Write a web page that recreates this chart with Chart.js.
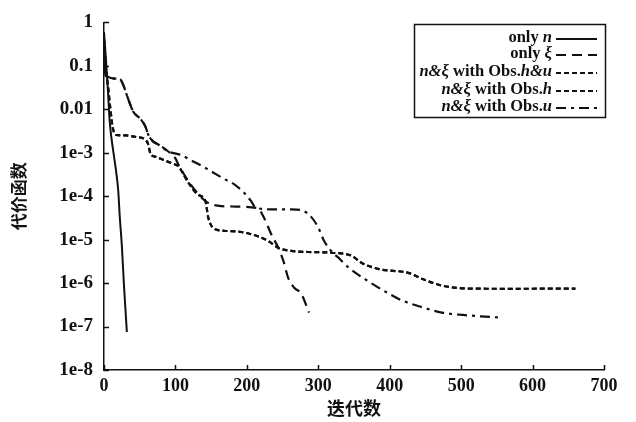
<!DOCTYPE html>
<html>
<head>
<meta charset="utf-8">
<script src="https://cdn.jsdelivr.net/npm/chart.js@4/dist/chart.umd.min.js"></script>
<style>
  html, body { margin: 0; padding: 0; background: #fff; }
  #wrap { width: 636px; height: 422px; }
</style>
</head>
<body>
<div id="wrap"><canvas id="chart" width="636" height="422"></canvas></div>
<script>
// tick labels
const xTicks = [0, 100, 200, 300, 400, 500, 600, 700];
const yTickValues = [1, 0.1, 0.01, 1e-3, 1e-4, 1e-5, 1e-6, 1e-7, 1e-8];
const yTickLabels = ['1', '0.1', '0.01', '1e-3', '1e-4', '1e-5', '1e-6', '1e-7', '1e-8'];

// only n
const iterN = [0, 3, 6, 8, 13, 17, 20, 22, 25, 28, 32];
const costN = [0.6, 0.12, 0.019, 5.2e-3, 1.07e-3, 3.7e-4, 1.3e-4, 3.5e-5, 7.2e-6, 8.7e-7, 7.5e-8];

// only xi
const iterXi = [0, 2, 22, 27, 34, 41, 51, 58, 62, 69, 76, 90, 100, 104, 121, 139, 150, 180, 215, 224, 234, 244, 251, 258, 266, 276, 287];
const costXi = [0.3, 0.06, 0.05, 0.036, 0.017, 8.8e-3, 6e-3, 4e-3, 2.6e-3, 1.8e-3, 1.55e-3, 1.07e-3, 7.4e-4, 5.4e-4, 1.9e-4, 8.5e-5, 6.5e-5, 5.8e-5, 5.3e-5, 3.2e-5, 1.35e-5, 6.5e-6, 3.3e-6, 1.3e-6, 7.9e-7, 5.7e-7, 2.1e-7];

// n & xi with Obs.h&u (lies on top of the Obs.h curve)
const iterHU = [0, 3, 6, 9, 12, 16, 30, 45, 58, 62, 65, 72, 96, 104, 117, 131, 142, 146, 154, 168, 192, 215, 230, 244, 262, 286, 318, 346, 361, 385, 427, 445, 473, 511, 568, 660];
const costHU = [0.4, 0.08, 0.03, 0.01, 4e-3, 2.6e-3, 2.5e-3, 2.3e-3, 2e-3, 1.55e-3, 9.5e-4, 8.1e-4, 5.6e-4, 4.9e-4, 2.2e-4, 1.1e-4, 7.7e-5, 3.2e-5, 1.8e-5, 1.6e-5, 1.5e-5, 1.2e-5, 9.3e-6, 6.5e-6, 5.5e-6, 5.2e-6, 5e-6, 4.3e-6, 2.9e-6, 2.1e-6, 1.7e-6, 1.26e-6, 8.8e-7, 7.5e-7, 7.4e-7, 7.5e-7];

// n & xi with Obs.h
const iterH = [0, 3, 6, 9, 12, 16, 30, 45, 58, 62, 65, 72, 96, 104, 117, 131, 142, 146, 154, 168, 192, 215, 230, 244, 262, 286, 318, 346, 361, 385, 427, 445, 473, 511, 568, 660];
const costH = [0.4, 0.08, 0.03, 0.01, 4e-3, 2.6e-3, 2.5e-3, 2.3e-3, 2e-3, 1.55e-3, 9.5e-4, 8.1e-4, 5.6e-4, 4.9e-4, 2.2e-4, 1.1e-4, 7.7e-5, 3.2e-5, 1.8e-5, 1.6e-5, 1.5e-5, 1.2e-5, 9.3e-6, 6.5e-6, 5.5e-6, 5.2e-6, 5e-6, 4.3e-6, 2.9e-6, 2.1e-6, 1.7e-6, 1.26e-6, 8.8e-7, 7.5e-7, 7.4e-7, 7.5e-7];

// n & xi with Obs.u
const iterU = [0, 2, 22, 27, 34, 41, 51, 58, 62, 69, 76, 90, 107, 125, 145, 168, 182, 196, 206, 212, 234, 262, 286, 300, 308, 318, 330, 342, 370, 399, 417, 445, 473, 511, 556];
const costU = [0.3, 0.06, 0.05, 0.036, 0.017, 8.8e-3, 6e-3, 4e-3, 2.6e-3, 1.8e-3, 1.55e-3, 1.07e-3, 9e-4, 6.3e-4, 4.2e-4, 2.5e-4, 1.9e-4, 1.2e-4, 7.7e-5, 5.5e-5, 5e-5, 5e-5, 3.9e-5, 1.9e-5, 9.4e-6, 5.5e-6, 3.6e-6, 2.3e-6, 1.1e-6, 5.7e-7, 4e-7, 2.8e-7, 2.1e-7, 1.8e-7, 1.6e-7];

// legend text, pieces are [text, italic]
const legendLabels = [
    [['only ', false], ['n', true]],
    [['only ', false], ['ξ', true]],
    [['n&ξ', true], [' with Obs.', false], ['h&u', true]],
    [['n&ξ', true], [' with Obs.', false], ['h', true]],
    [['n&ξ', true], [' with Obs.', false], ['u', true]]
];

const ink = '#111';
const serif = '"Liberation Serif", "DejaVu Serif", serif';

function points(xs, ys) {
    return xs.map((x, i) => ({ x: x, y: ys[i] }));
}

function series(xs, ys, dash, width) {
    return {
        data: points(xs, ys),
        borderColor: ink,
        borderWidth: width,
        borderDash: dash,
        pointRadius: 0,
        fill: false,
        cubicInterpolationMode: 'monotone'
    };
}

// inward tick marks like the original
const innerTicks = {
    id: 'innerTicks',
    afterDraw(chart) {
        const { ctx, scales: { x, y }, chartArea } = chart;
        ctx.save();
        ctx.strokeStyle = ink;
        ctx.lineWidth = 1.5;
        ctx.beginPath();
        yTickValues.forEach(v => {
            const py = Math.round(y.getPixelForValue(v)) + 0.5;
            ctx.moveTo(chartArea.left, py);
            ctx.lineTo(chartArea.left + 5, py);
        });
        xTicks.forEach(v => {
            const px = Math.round(x.getPixelForValue(v)) + 0.5;
            ctx.moveTo(px, chartArea.bottom);
            ctx.lineTo(px, chartArea.bottom - 5);
        });
        ctx.stroke();
        ctx.restore();
    }
};

// boxed legend, text right aligned with line sample on the right
const boxLegend = {
    id: 'boxLegend',
    afterDraw(chart) {
        const ctx = chart.ctx;
        const rowY = [38, 54, 72, 90, 107];
        const textRight = 552;
        ctx.save();
        ctx.strokeStyle = ink;
        ctx.lineWidth = 1.5;
        ctx.strokeRect(414.5, 24.5, 191, 93);
        ctx.fillStyle = ink;
        ctx.textBaseline = 'middle';
        legendLabels.forEach((parts, i) => {
            const fonts = parts.map(p => (p[1] ? 'italic bold ' : 'bold ') + '16.5px ' + serif);
            let total = 0;
            parts.forEach((p, j) => { ctx.font = fonts[j]; total += ctx.measureText(p[0]).width; });
            let cx = textRight - total;
            parts.forEach((p, j) => {
                ctx.font = fonts[j];
                ctx.fillText(p[0], cx, rowY[i]);
                cx += ctx.measureText(p[0]).width;
            });
            const ds = chart.data.datasets[i];
            ctx.beginPath();
            ctx.lineWidth = ds.borderWidth;
            ctx.setLineDash(ds.borderDash || []);
            ctx.moveTo(556, rowY[i] + 1);
            ctx.lineTo(597, rowY[i] + 1);
            ctx.stroke();
        });
        ctx.restore();
    }
};

new Chart(document.getElementById('chart'), {
    type: 'line',
    data: {
        datasets: [
            series(iterN, costN, [], 2),
            series(iterXi, costXi, [10, 6], 2.2),
            series(iterHU, costHU, [5, 3], 2.2),
            series(iterH, costH, [5, 3], 2.2),
            series(iterU, costU, [10, 5, 3, 5], 2.2)
        ]
    },
    options: {
        responsive: false,
        animation: false,
        devicePixelRatio: 1,
        layout: { padding: { left: 0, right: 32, top: 20, bottom: 0 } },
        plugins: {
            legend: { display: false },
            tooltip: { enabled: false }
        },
        scales: {
            x: {
                type: 'linear',
                min: 0,
                max: 700,
                afterBuildTicks: s => { s.ticks = xTicks.map(v => ({ value: v })); },
                afterFit: s => { s.height = 52; },
                grid: { display: false, drawTicks: false },
                border: { display: true, color: ink, width: 1.5 },
                ticks: {
                    color: ink,
                    padding: 6,
                    maxRotation: 0,
                    font: { family: serif, size: 18, weight: 'bold' }
                },
                title: {
                    display: true,
                    text: '迭代数',
                    color: ink,
                    padding: { top: 0, bottom: 3 },
                    font: { family: '"Noto Sans CJK SC", sans-serif', size: 18, weight: 'bold' }
                }
            },
            y: {
                type: 'logarithmic',
                min: 1e-8,
                max: 1,
                afterBuildTicks: s => { s.ticks = yTickValues.map(v => ({ value: v })); },
                afterFit: s => { s.width = 104; },
                grid: { display: false, drawTicks: false },
                border: { display: true, color: ink, width: 1.5 },
                ticks: {
                    color: ink,
                    padding: 11,
                    autoSkip: false,
                    font: { family: serif, size: 19, weight: 'bold' },
                    callback: v => {
                        const i = yTickValues.findIndex(t => Math.abs(Math.log10(t) - Math.log10(v)) < 1e-6);
                        return i >= 0 ? yTickLabels[i] : '';
                    }
                },
                title: {
                    display: true,
                    text: '代价函数',
                    color: ink,
                    padding: { top: 8, bottom: 0 },
                    font: { family: '"Noto Sans CJK SC", sans-serif', size: 17, weight: 'bold' }
                }
            }
        }
    },
    plugins: [innerTicks, boxLegend]
});
</script>
</body>
</html>
